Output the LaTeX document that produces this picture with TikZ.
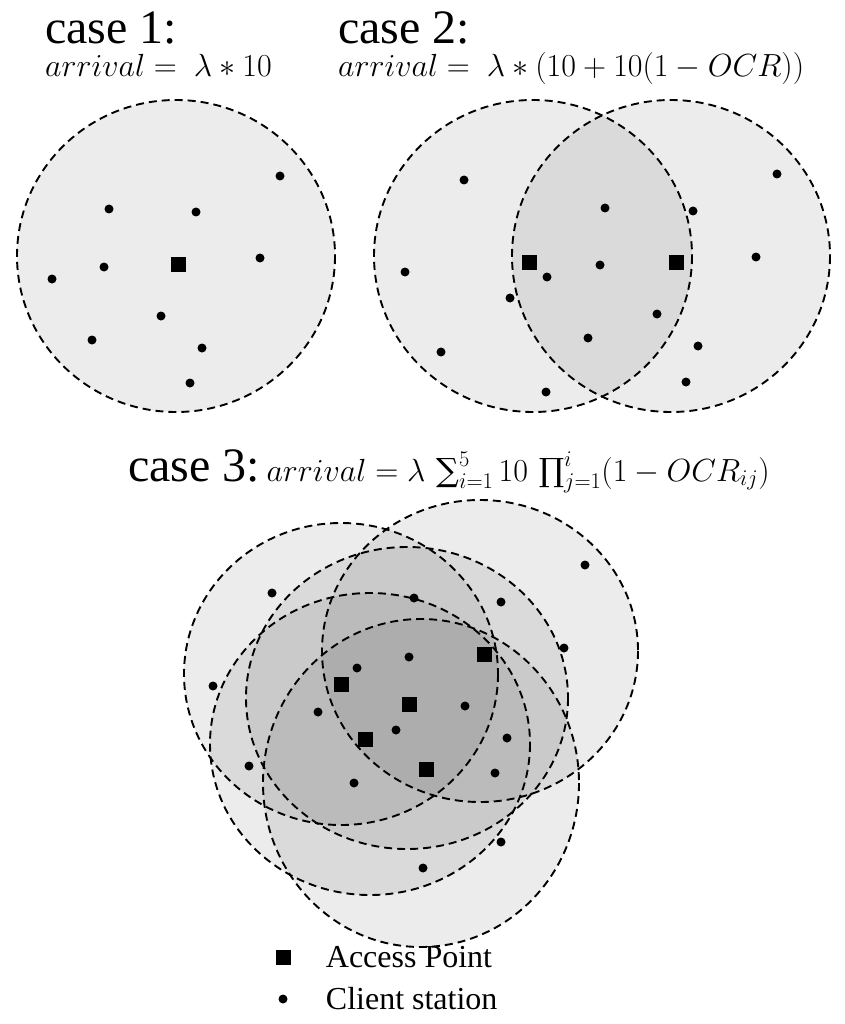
\documentclass[tikz,border=0pt]{standalone}
\usepackage{fix-cm}
\usepackage{fontspec}
\setmainfont{Liberation Serif}
\newfontfamily\opfont{DejaVu Serif}
\usetikzlibrary{positioning}
\tikzset{
  cell/.style={fill=black, fill opacity=0.075, draw=black, line width=1.9pt, dash pattern=on 8pt off 5pt},
  client/.style={circle, fill=black, inner sep=0pt, minimum size=9pt},
  ap/.style={rectangle, fill=black, inner sep=0pt, minimum size=15pt},
  caselabel/.style={anchor=base west, inner sep=0pt, font=\fontsize{48}{52}\selectfont},
  formula/.style={anchor=base west, inner sep=0pt, font=\fontsize{32}{38}\selectfont},
  legendtext/.style={anchor=west, inner sep=0pt, font=\fontsize{32}{36}\selectfont}
}
\newcommand{\bigop}[1]{\mathop{\mbox{\opfont #1}}\nolimits}

\begin{document}
\begin{tikzpicture}[x=1pt, y=-1pt]
\useasboundingbox (0,0) rectangle (844,1024);

% case 1
\draw[cell] (176,256) ellipse [x radius=159, y radius=156];
\foreach \x/\y [count=\i] in {280/176, 109/209, 196/212, 52/279, 104/267, 260/258, 161/316, 92/340, 202/348, 190/383}
  \node[client] (one-c\i) at (\x,\y) {};
\node[ap] (one-ap) at (178,264) {};
\node[caselabel] (case1) at (45,44) {case 1:};
\node[formula] (form1) at (45,77) {$arrival = \ \lambda * 10$};

% case 2
\draw[cell] (533,256) ellipse [x radius=159, y radius=156];
\draw[cell] (671,256) ellipse [x radius=159, y radius=156];
\foreach \x/\y [count=\i] in {464/180, 777/174, 605/208, 693/211, 405/272, 547/277, 600/265, 756/257, 510/298, 657/314, 588/338, 698/346, 441/352, 686/382, 546/392}
  \node[client] (two-c\i) at (\x,\y) {};
\node[ap] (two-apl) at (529,262) {};
\node[ap] (two-apr) at (676,262) {};
\node[caselabel] (case2) at (338,44) {case 2:};
\node[formula] (form2) at (338,77) {$arrival = \ \lambda * (10 + 10(1 - OCR))$};

% case 3
\draw[cell] (341,674) ellipse [x radius=157, y radius=151];
\draw[cell] (480,651) ellipse [x radius=158, y radius=151];
\draw[cell] (407,698) ellipse [x radius=161, y radius=151];
\draw[cell] (370,744) ellipse [x radius=160, y radius=151];
\draw[cell] (421,783) ellipse [x radius=158, y radius=164];
\foreach \x/\y [count=\i] in {272/593, 414/598, 501/602, 585/565, 564/648, 213/686, 357/668, 409/657, 318/712, 465/706, 396/730, 507/738, 249/766, 354/783, 495/773, 501/842, 423/868}
  \node[client] (three-c\i) at (\x,\y) {};
\node[ap] (three-ap1) at (341,684) {};
\node[ap] (three-ap2) at (409,704) {};
\node[ap] (three-ap3) at (484,654) {};
\node[ap] (three-ap4) at (365,739) {};
\node[ap] (three-ap5) at (426,769) {};
\node[caselabel] (case3) at (128,481) {case 3:};
\node[formula] (form3) at ([xshift=6pt]case3.base east) {$arrival = \lambda\, \bigop{∑}_{i=1}^{5} 10\, \bigop{∏}_{j=1}^{i}(1 - OCR_{ij})$};

% legend
\node[ap] (key-ap) at (283,957) {};
\node[client] (key-client) at (283,999) {};
\node[legendtext, right=35pt of key-ap] (key-aptext) {Access Point};
\node[legendtext, right=38pt of key-client] (key-clienttext) {Client station};
\end{tikzpicture}
\end{document}
